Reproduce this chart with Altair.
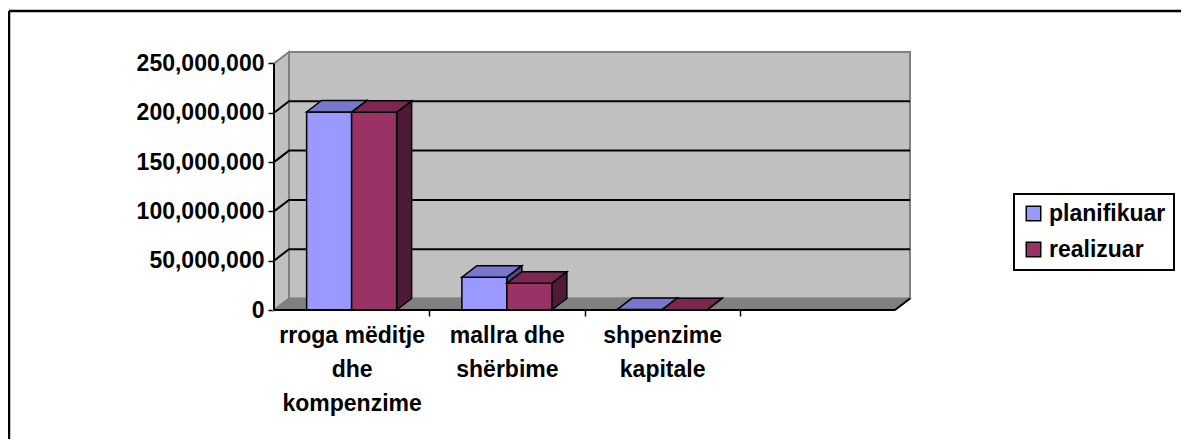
import json
import altair as alt
import pandas as pd

# ---------------- data ----------------
categories = ["rroga mëditje dhe kompenzime", "mallra dhe shërbime", "shpenzime kapitale"]
category_lines = [["rroga mëditje", "dhe", "kompenzime"], ["mallra dhe", "shërbime"], ["shpenzime", "kapitale"]]
series = ["planifikuar", "realizuar"]
planifikuar = [200_800_000, 33_300_000, 400_000]
realizuar = [200_500_000, 27_200_000, 300_000]
y_ticks = [0, 50_000_000, 100_000_000, 150_000_000, 200_000_000, 250_000_000]

# ---------------- layout / style ----------------
N_SLOTS = 4            # category slots on the floor (last one empty)
SLOT_PX = 155.25
DX_PX = 15.0           # 3-D depth, horizontal
DY_PX = 11.5           # 3-D depth, vertical
YAX_PX = 246.5         # pixels from 0 to the top tick
W = N_SLOTS * SLOT_PX + DX_PX
H = YAX_PX + DY_PX
YTOP = y_ticks[-1]
DXU = DX_PX / SLOT_PX
DYU = YTOP * DY_PX / YAX_PX
YMAX = YTOP + DYU
BAR_W = 45 / SLOT_PX
FONT = "Liberation Sans"
FS = 23
PAD_L, PAD_T = 266, 44
PAD_R = 1173 - PAD_L - W
PAD_B = 431 - PAD_T - H

front_cols = {"planifikuar": "#9999FF", "realizuar": "#993366"}
top_cols = {"planifikuar": "#7777CC", "realizuar": "#7A2850"}
side_cols = {"planifikuar": "#4D4D88", "realizuar": "#4F1A35"}

# ---------------- geometry built from the data ----------------
front, top, side = [], [], []
for i, cat in enumerate(categories):
    for j, (s, vals) in enumerate(zip(series, [planifikuar, realizuar])):
        v = vals[i]
        a = i + 0.5 - BAR_W + j * BAR_W
        b = a + BAR_W
        bid = f"{i}-{s}"
        front.append({"id": bid, "series": s, "category": cat, "x": a, "x2": b, "y": 0, "y2": v})
        for xx, lo, hi in [(a, v, v), (a + DXU, v, v + DYU), (b, v, v + DYU), (b + DXU, v + DYU, v + DYU)]:
            top.append({"id": bid, "series": s, "x": xx, "lo": lo, "hi": hi})
        for xx, lo, hi in [(b, 0, v), (b + DXU, DYU, v + DYU)]:
            side.append({"id": bid, "series": s, "x": xx, "lo": lo, "hi": hi})
front = pd.DataFrame(front)
top = pd.DataFrame(top)
side = pd.DataFrame(side)

grid = []
for v in y_ticks[1:-1]:
    for k, (xx, yy) in enumerate([(0, v), (DXU, v + DYU), (N_SLOTS + DXU, v + DYU)]):
        grid.append({"level": v, "k": k, "x": xx, "y": yy})
grid = pd.DataFrame(grid)

side_wall = pd.DataFrame({"x": [0, DXU], "lo": [0, DYU], "hi": [YTOP, YMAX]})
back_wall = pd.DataFrame({"x": [DXU], "x2": [N_SLOTS + DXU], "y": [DYU], "y2": [YMAX]})
floor = pd.DataFrame({"x": [0, DXU, N_SLOTS, N_SLOTS + DXU],
                      "lo": [0, 0, 0, DYU], "hi": [0, DYU, DYU, DYU]})
floor_edge = pd.DataFrame({"x": [N_SLOTS, N_SLOTS + DXU], "y": [0, DYU]})
yaxis_line = pd.DataFrame({"x": [0], "y": [0], "y2": [YTOP]})
xaxis_line = pd.DataFrame({"x": [0], "x2": [N_SLOTS], "y": [0]})

# ---------------- axes / scales ----------------
xscale = alt.Scale(domain=[0, N_SLOTS + DXU], nice=False, zero=False)
yscale = alt.Scale(domain=[0, YMAX], nice=False, zero=False)
lines_js = json.dumps(category_lines, ensure_ascii=False)
xaxis = alt.Axis(values=[1, 2, 3], labelExpr=f"{lines_js}[datum.value - 1]",
                 labelOffset=-SLOT_PX / 2, tickSize=6, tickColor="black", tickWidth=1.5,
                 domain=False, grid=False, labelFont=FONT, labelFontWeight="bold",
                 labelFontSize=FS, labelColor="black", labelLineHeight=34,
                 labelPadding=8, labelOverlap=False, labelAlign="center",
                 labelBaseline="top", labelFlush=False, title=None)
yaxis = alt.Axis(values=y_ticks, format=",d", tickSize=6, tickColor="black", tickWidth=1.5,
                 domain=False, grid=False, labelFont=FONT, labelFontWeight="bold",
                 labelFontSize=FS, labelColor="black", labelPadding=4, title=None)


def X(f):
    return alt.X(f"{f}:Q", scale=xscale, axis=xaxis, title=None)


def Y(f):
    return alt.Y(f"{f}:Q", scale=yscale, axis=yaxis, title=None)


layers = []
layers.append(alt.Chart(side_wall).mark_area(fill="#C0C0C0", stroke="#808080", strokeWidth=2)
              .encode(x=X("x"), y=Y("lo"), y2="hi"))
layers.append(alt.Chart(back_wall).mark_rect(fill="#C0C0C0", stroke="#808080", strokeWidth=2)
              .encode(x=X("x"), x2="x2", y=Y("y"), y2="y2"))
layers.append(alt.Chart(floor).mark_area(fill="#808080", stroke="#808080", strokeWidth=1.5)
              .encode(x=X("x"), y=Y("lo"), y2="hi"))
layers.append(alt.Chart(grid).mark_line(color="black", strokeWidth=2)
              .encode(x=X("x"), y=Y("y"), detail="level:N", order="k:Q"))
layers.append(alt.Chart(floor_edge).mark_line(color="black", strokeWidth=2)
              .encode(x=X("x"), y=Y("y")))

for s in series:
    layers.append(alt.Chart(side).transform_filter(alt.datum.series == s)
                  .mark_area(fill=side_cols[s], stroke="black", strokeWidth=1.5)
                  .encode(x=X("x"), y=Y("lo"), y2="hi", detail="id:N"))
    layers.append(alt.Chart(front).transform_filter(alt.datum.series == s)
                  .mark_rect(stroke="black", strokeWidth=1.5)
                  .encode(x=X("x"), x2="x2", y=Y("y"), y2="y2",
                          color=alt.Color("series:N",
                                          scale=alt.Scale(domain=series,
                                                          range=[front_cols[k] for k in series]),
                                          legend=alt.Legend(orient="none", legendX=740, legendY=142,
                                                            title=None, symbolType="square",
                                                            symbolSize=210, symbolStrokeColor="black",
                                                            symbolStrokeWidth=1.5, symbolOpacity=1,
                                                            labelFont=FONT, labelFontSize=FS,
                                                            labelFontWeight="bold", labelColor="black",
                                                            strokeColor="black", padding=8,
                                                            rowPadding=12, labelOffset=4))))
    layers.append(alt.Chart(top).transform_filter(alt.datum.series == s)
                  .mark_area(fill=top_cols[s], stroke="black", strokeWidth=1.5)
                  .encode(x=X("x"), y=Y("lo"), y2="hi", detail="id:N"))

layers.append(alt.Chart(yaxis_line).mark_rule(color="black", strokeWidth=2)
              .encode(x=X("x"), y=Y("y"), y2="y2"))
layers.append(alt.Chart(xaxis_line).mark_rule(color="black", strokeWidth=2)
              .encode(x=X("x"), x2="x2", y=Y("y")))

# outer frame (top and left edges of the chart border)
one = pd.DataFrame({"k": [0]})
layers.append(alt.Chart(one).mark_rule(color="black", strokeWidth=2.5, clip=False)
              .encode(x=alt.value(-265), x2=alt.value(W + PAD_R), y=alt.value(-41)))
layers.append(alt.Chart(one).mark_rule(color="black", strokeWidth=2.5, clip=False)
              .encode(x=alt.value(-265), y=alt.value(-41), y2=alt.value(H + PAD_B)))

chart = (alt.layer(*layers)
         .properties(width=W, height=H, autosize="none",
                     padding={"left": PAD_L, "top": PAD_T, "right": PAD_R, "bottom": PAD_B},
                     background="white")
         .configure_view(stroke=None)
         .configure_legend(strokeWidth=2))

chart.save("out.html", embed_options={"renderer": "svg", "actions": False})
